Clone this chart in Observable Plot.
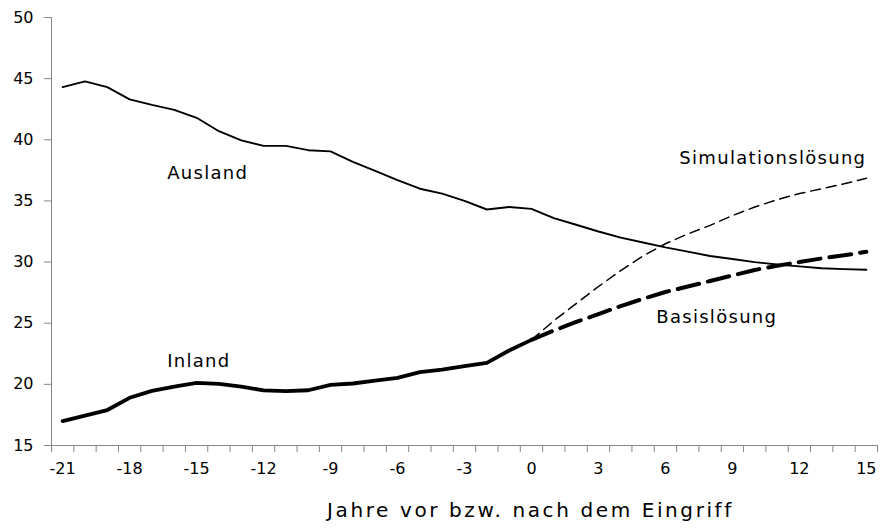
<!DOCTYPE html>
<html><head><meta charset="utf-8">
<script src="https://cdn.jsdelivr.net/npm/d3@7"></script>
<script src="https://cdn.jsdelivr.net/npm/@observablehq/plot@0.6"></script>
<style>body{margin:0;background:#fff} #chart{width:885px;height:532px}</style>
</head><body><div id="chart"></div>
<script>
const yearsAll = [-21,-20,-19,-18,-17,-16,-15,-14,-13,-12,-11,-10,-9,-8,-7,-6,-5,-4,-3,-2,-1,0,1,2,3,4,5,6,7,8,9,10,11,12,13,14,15];
const yearsPast = [-21,-20,-19,-18,-17,-16,-15,-14,-13,-12,-11,-10,-9,-8,-7,-6,-5,-4,-3,-2,-1,0];
const yearsFuture = [0,1,2,3,4,5,6,7,8,9,10,11,12,13,14,15];
const ausland = [44.3,44.78,44.3,43.3,42.85,42.45,41.8,40.7,39.95,39.5,39.5,39.15,39.05,38.2,37.45,36.7,36.0,35.6,35.0,34.3,34.5,34.35,33.6,33.05,32.5,32.0,31.6,31.2,30.85,30.5,30.25,30.0,29.8,29.65,29.5,29.42,29.37];
const inland = [17.0,17.45,17.9,18.9,19.47,19.82,20.12,20.04,19.82,19.5,19.44,19.52,19.96,20.07,20.3,20.53,21.0,21.2,21.5,21.76,22.77,23.64];
const basis = [23.64,24.4,25.1,25.75,26.4,27.0,27.55,28.0,28.45,28.9,29.35,29.7,30.0,30.3,30.55,30.85];
const simulation = [23.64,25.2,26.6,28.0,29.3,30.5,31.5,32.3,33.0,33.8,34.5,35.1,35.6,36.0,36.4,36.85];
const xTickLabels = [-21,-18,-15,-12,-9,-6,-3,0,3,6,9,12,15];
const yTicks = [15,20,25,30,35,40,45,50];
const seriesNames = ["Ausland","Inland","Simulationslösung","Basislösung"];
const xTitle = "Jahre vor bzw. nach dem Eingriff";

const rows = (xs, ys) => xs.map((x, i) => ({x, y: ys[i]}));
const boundaries = yearsAll.map(y => y - 0.5).concat([yearsAll[yearsAll.length - 1] + 0.5]);
const font = "DejaVu Sans";
const axisGrey = "#868686";

const chart = Plot.plot({
  width: 885, height: 532,
  marginLeft: 51, marginRight: 8, marginTop: 17, marginBottom: 87,
  style: {fontFamily: font, fontSize: "16px", background: "#fff", color: "#000"},
  x: {domain: [-21.5, 15.5]},
  y: {domain: [15, 50]},
  marks: [
    Plot.axisY(yTicks, {tickSize: 7, tickPadding: 11, stroke: axisGrey, fill: "#000", label: null, fontSize: 16}),
    Plot.axisX(boundaries, {tickSize: 7, tickFormat: () => "", stroke: axisGrey, label: null}),
    Plot.axisX(xTickLabels, {tickSize: 0, tickPadding: 17, fill: "#000", label: null, fontSize: 16, tickFormat: d => String(d)}),
    Plot.ruleX([-21.5], {stroke: axisGrey, strokeWidth: 1}),
    Plot.ruleY([15], {stroke: axisGrey, strokeWidth: 1}),
    Plot.line(rows(yearsAll, ausland), {x: "x", y: "y", stroke: "#000", strokeWidth: 1.9}),
    Plot.line(rows(yearsPast, inland), {x: "x", y: "y", stroke: "#000", strokeWidth: 3.8}),
    Plot.line(rows(yearsFuture, simulation), {x: "x", y: "y", stroke: "#000", strokeWidth: 1.5, strokeDasharray: "10,6"}),
    Plot.line(rows(yearsFuture, basis), {x: "x", y: "y", stroke: "#000", strokeWidth: 4, strokeDasharray: "22,9"}),
    Plot.text([seriesNames[0]], {x: -14.5, y: 37.3, text: d => d, fontSize: 18, fill: "#000"}),
    Plot.text([seriesNames[1]], {x: -14.9, y: 21.9, text: d => d, fontSize: 18, fill: "#000"}),
    Plot.text([seriesNames[2]], {x: 15.0, y: 38.5, text: d => d, fontSize: 18, textAnchor: "end", fill: "#000"}),
    Plot.text([seriesNames[3]], {x: 8.3, y: 25.5, text: d => d, fontSize: 18, fill: "#000"}),
    Plot.text([xTitle], {frameAnchor: "bottom", dy: 71, dx: 66, text: d => d, fontSize: 20, fill: "#000"})
  ]
});
const labelSet = new Set(seriesNames);
d3.select(chart).selectAll("text").each(function() {
  const t = this.textContent;
  if (labelSet.has(t)) this.style.letterSpacing = "1.3px";
  else if (t === xTitle) this.style.letterSpacing = "2.6px";
});
document.getElementById("chart").appendChild(chart);
</script>
</body></html>
